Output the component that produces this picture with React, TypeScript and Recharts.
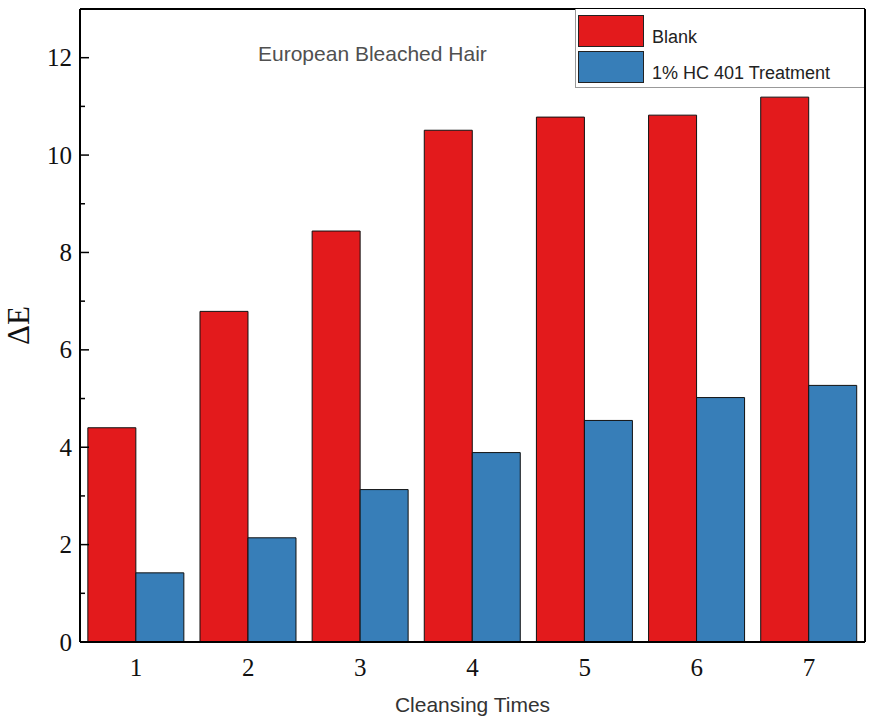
import { BarChart, Bar, XAxis, YAxis, Label } from 'recharts';

const cleansingTimes = ['1', '2', '3', '4', '5', '6', '7'];
const blankValues = [4.4, 6.79, 8.44, 10.51, 10.78, 10.82, 11.19];
const treatmentValues = [1.42, 2.14, 3.13, 3.89, 4.55, 5.02, 5.27];
const yTicks = [0, 1, 2, 3, 4, 5, 6, 7, 8, 9, 10, 11, 12, 13];

const RED = '#E31A1C';
const BLUE = '#377EB8';
const SERIF = "'Liberation Serif', 'Times New Roman', serif";
const SANS = "'Liberation Sans', Arial, sans-serif";

const data = cleansingTimes.map((t, i) => ({
  time: t,
  blank: blankValues[i],
  treatment: treatmentValues[i],
}));

const legendItems = [
  { color: RED, name: 'Blank' },
  { color: BLUE, name: '1% HC 401 Treatment' },
];

const YTick = (props: any) => {
  const { x, y, payload } = props;
  const v = payload.value as number;
  if (v === 13) return null;
  const major = v % 2 === 0;
  return (
    <g>
      <line x1={x} x2={x + (major ? 9 : 5)} y1={y} y2={y} stroke="#000" strokeWidth={1.5} />
      {major && (
        <text x={x - 8} y={y} textAnchor="end" dominantBaseline="central" fontFamily={SERIF} fontSize={25} fill="#111">
          {v}
        </text>
      )}
    </g>
  );
};

export default function App() {
  return (
    <div style={{ position: 'absolute', left: 0, top: 0, width: 885, height: 720, background: '#fff' }}>
      <BarChart
        width={885}
        height={720}
        data={data}
        margin={{ top: 8, right: 19, bottom: 0, left: 0 }}
        barCategoryGap="7%"
        barGap={0}
      >
        <XAxis
          dataKey="time"
          height={78}
          tickLine={false}
          tickSize={0}
          tickMargin={16}
          axisLine={{ stroke: '#000', strokeWidth: 2 }}
          tick={{ fontFamily: SERIF, fontSize: 25, fill: '#111' }}
        >
          <Label value="Cleansing Times" position="insideBottom" offset={8} style={{ fontFamily: SANS, fontSize: 21, fill: '#333' }} />
        </XAxis>
        <XAxis xAxisId="top" dataKey="time" orientation="top" height={1} tick={false} tickLine={false} axisLine={{ stroke: '#000', strokeWidth: 2 }} />
        <YAxis
          width={80}
          domain={[0, 13]}
          ticks={yTicks}
          interval={0}
          tickLine={false}
          tickSize={0}
          tickMargin={0}
          tick={<YTick />}
          axisLine={{ stroke: '#000', strokeWidth: 2 }}
        >
          <Label
            value="ΔE"
            angle={-90}
            position="insideLeft"
            offset={18}
            style={{ fontFamily: SERIF, fontSize: 31, fill: '#111', textAnchor: 'middle' }}
          />
        </YAxis>
        <YAxis yAxisId="right" orientation="right" width={1} tick={false} tickLine={false} axisLine={{ stroke: '#000', strokeWidth: 2 }} />
        <Bar dataKey="blank" name="Blank" fill={RED} stroke="#111" strokeWidth={1} isAnimationActive={false} />
        <Bar dataKey="treatment" name="1% HC 401 Treatment" fill={BLUE} stroke="#111" strokeWidth={1} isAnimationActive={false} />
      </BarChart>
      <div
        style={{
          position: 'absolute',
          left: 575,
          top: 9,
          width: 289,
          height: 79,
          borderLeft: '1px solid #999',
          borderBottom: '1px solid #999',
          background: '#fff',
          fontFamily: SANS,
          fontSize: 18,
          color: '#222',
          boxSizing: 'border-box',
        }}
      >
        {legendItems.map((it, i) => (
          <div key={it.name} style={{ position: 'absolute', left: 2, top: 6 + i * 36, display: 'flex', alignItems: 'center' }}>
            <div style={{ width: 66, height: 32, background: it.color, border: '1px solid #222', boxSizing: 'border-box' }} />
            <span style={{ marginLeft: 8, marginTop: 12, lineHeight: '20px' }}>{it.name}</span>
          </div>
        ))}
      </div>
      <div
        style={{
          position: 'absolute',
          left: 258,
          top: 42,
          fontFamily: SANS,
          fontSize: 21,
          color: '#505050',
          whiteSpace: 'nowrap',
        }}
      >
        European Bleached Hair
      </div>
    </div>
  );
}
